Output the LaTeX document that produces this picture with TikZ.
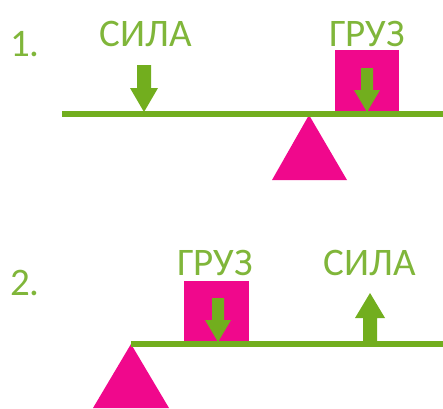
\documentclass[tikz,border=0pt]{standalone}
\usepackage{fontspec}
\setmainfont{Carlito}
\definecolor{lev}{HTML}{72AE1E}
\definecolor{txt}{HTML}{80B63A}
\definecolor{pnk}{HTML}{F0088C}
\begin{document}
\begin{tikzpicture}[x=1pt,y=-1pt,
  lbl/.style={text=txt,font=\fontsize{39}{42}\selectfont,inner sep=0pt,anchor=base},
  lever/.style={draw=lev,line width=6.5pt},
  weight/.style={fill=pnk},
  fulc/.style={fill=pnk}]
\useasboundingbox (0,0) rectangle (443,408);
% ---- part 1
\node[lbl] (n1) at (25,56) {1.};
\node[lbl] (s1) at (146,46) {СИЛА};
\node[lbl] (g1) at (367,46) {ГРУЗ};
\fill[weight] (335,50) rectangle (399,114);
\fill[fulc] (309,115) -- (347,180) -- (272,180) -- cycle;
\draw[lever] (62,114) -- (443,114);
% down arrow (force)
\fill[lev] (137,65) -- (151,65) -- (151,88) -- (158,88) -- (144,112) -- (130,88) -- (137,88) -- cycle;
% down arrow in weight
\fill[lev] (361,68) -- (373,68) -- (373,90) -- (380,90) -- (367,112) -- (354,90) -- (361,90) -- cycle;
% ---- part 2
\node[lbl] (n2) at (25,295) {2.};
\node[lbl] (g2) at (215,275) {ГРУЗ};
\node[lbl] (s2) at (370,275) {СИЛА};
\fill[weight] (184,281) rectangle (249,344);
\fill[fulc] (131,344) -- (169,408) -- (93,408) -- cycle;
\draw[lever] (131,344) -- (443,344);
% down arrow in weight
\fill[lev] (212,298) -- (224,298) -- (224,320) -- (231,320) -- (218,342) -- (205,320) -- (212,320) -- cycle;
% up arrow (force)
\fill[lev] (363,344) -- (377,344) -- (377,318) -- (385,318) -- (370,293) -- (355,318) -- (363,318) -- cycle;
\end{tikzpicture}
\end{document}
